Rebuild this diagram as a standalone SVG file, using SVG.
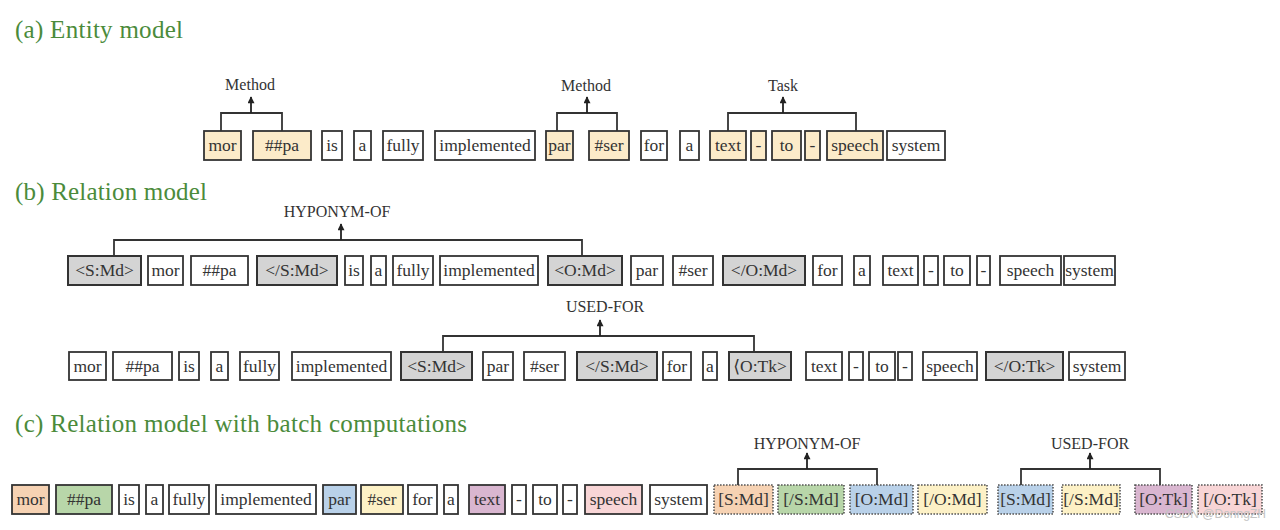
<svg xmlns="http://www.w3.org/2000/svg" width="1280" height="530" viewBox="0 0 1280 530">
<defs>
<marker id="ah" viewBox="0 0 10 10" refX="9" refY="5" markerWidth="8" markerHeight="7" markerUnits="userSpaceOnUse" orient="auto">
<path d="M0,0 L10,5 L0,10 Z" fill="#222"/>
</marker>
<style>
.title{font-family:"Liberation Serif",serif;font-size:25px;fill:#4b8b3b}
.lab{font-family:"Liberation Serif",serif;font-size:16px;fill:#333;text-anchor:middle}
.w{font-family:"Liberation Serif","DejaVu Serif",serif;font-size:17.5px;fill:#333;text-anchor:middle}
rect{stroke:#333;stroke-width:1.8;fill:#fff}
.ent{fill:#fcebc9}
.gry{fill:#d4d4d4;stroke-width:2}
.dot{stroke:#555;stroke-dasharray:1.6 1.4;stroke-width:1.6}
.or{fill:#f6d2b3}.gr{fill:#b8d6a9}.bl{fill:#b9d1e9}.ye{fill:#fdf1c6}.pu{fill:#d9b6d0}.pk{fill:#f8d5d6}
.con{fill:none;stroke:#333;stroke-width:1.8}
.arr{fill:none;stroke:#222;stroke-width:1.8;marker-end:url(#ah)}
.wm{font-family:"Liberation Sans",sans-serif;font-size:12px;fill:#c4c4c4}
</style>
</defs>
<rect x="0" y="0" width="1280" height="530" style="fill:#fff;stroke:none"/>

<text class="title" x="15" y="38" textLength="168">(a) Entity model</text>
<text class="title" x="15" y="200" textLength="192">(b) Relation model</text>
<text class="title" x="15" y="432" textLength="452">(c) Relation model with batch computations</text>

<!-- Row a -->
<g id="a-mor"><rect class="ent" x="204" y="131" width="37" height="29"/><text class="w" x="222.5" y="151">mor</text></g>
<g id="a-pa"><rect class="ent" x="253" y="131" width="58" height="29"/><text class="w" x="282" y="151">##pa</text></g>
<g id="a-is"><rect x="322" y="131" width="20" height="29"/><text class="w" x="332" y="151">is</text></g>
<g id="a-a1"><rect x="354" y="131" width="17" height="29"/><text class="w" x="362.5" y="151">a</text></g>
<g id="a-fully"><rect x="383" y="131" width="40" height="29"/><text class="w" x="403" y="151">fully</text></g>
<g id="a-impl"><rect x="435" y="131" width="100" height="29"/><text class="w" x="485" y="151">implemented</text></g>
<g id="a-par"><rect class="ent" x="546" y="131" width="27" height="29"/><text class="w" x="559.5" y="151">par</text></g>
<g id="a-ser"><rect class="ent" x="589" y="131" width="40" height="29"/><text class="w" x="609" y="151">#ser</text></g>
<g id="a-for"><rect x="641" y="131" width="26" height="29"/><text class="w" x="654" y="151">for</text></g>
<g id="a-a2"><rect x="680" y="131" width="19" height="29"/><text class="w" x="689.5" y="151">a</text></g>
<g id="a-text"><rect class="ent" x="710" y="131" width="36" height="29"/><text class="w" x="728" y="151">text</text></g>
<g id="a-d1"><rect class="ent" x="751" y="131" width="15" height="29"/><text class="w" x="758.5" y="151">-</text></g>
<g id="a-to"><rect class="ent" x="772" y="131" width="29" height="29"/><text class="w" x="786.5" y="151">to</text></g>
<g id="a-d2"><rect class="ent" x="805" y="131" width="15" height="29"/><text class="w" x="812.5" y="151">-</text></g>
<g id="a-speech"><rect class="ent" x="827" y="131" width="56" height="29"/><text class="w" x="855" y="151">speech</text></g>
<g id="a-system"><rect x="887" y="131" width="58" height="29"/><text class="w" x="916" y="151">system</text></g>
<g id="a-lab-method1"><text class="lab" x="250" y="90">Method</text></g>
<g id="a-lab-method2"><text class="lab" x="586" y="91">Method</text></g>
<g id="a-lab-task"><text class="lab" x="783" y="91">Task</text></g>

<!-- Row b1 -->
<g id="b1-s"><rect class="gry" x="68" y="256" width="73" height="29"/><text class="w" x="104.5" y="276">&lt;S:Md&gt;</text></g>
<g id="b1-mor"><rect x="148" y="256" width="35" height="29"/><text class="w" x="165.5" y="276">mor</text></g>
<g id="b1-pa"><rect x="191" y="256" width="57" height="29"/><text class="w" x="219.5" y="276">##pa</text></g>
<g id="b1-se"><rect class="gry" x="257" y="256" width="80" height="29"/><text class="w" x="297" y="276">&lt;/S:Md&gt;</text></g>
<g id="b1-is"><rect x="345" y="256" width="18" height="29"/><text class="w" x="354" y="276">is</text></g>
<g id="b1-a1"><rect x="371" y="256" width="15" height="29"/><text class="w" x="378.5" y="276">a</text></g>
<g id="b1-fully"><rect x="393" y="256" width="40" height="29"/><text class="w" x="413" y="276">fully</text></g>
<g id="b1-impl"><rect x="440" y="256" width="98" height="29"/><text class="w" x="489" y="276">implemented</text></g>
<g id="b1-o"><rect class="gry" x="548" y="256" width="74" height="29"/><text class="w" x="585" y="276">&lt;O:Md&gt;</text></g>
<g id="b1-par"><rect x="631" y="256" width="32" height="29"/><text class="w" x="647" y="276">par</text></g>
<g id="b1-ser"><rect x="673" y="256" width="40" height="29"/><text class="w" x="693" y="276">#ser</text></g>
<g id="b1-oe"><rect class="gry" x="723" y="256" width="82" height="29"/><text class="w" x="764" y="276">&lt;/O:Md&gt;</text></g>
<g id="b1-for"><rect x="813" y="256" width="29" height="29"/><text class="w" x="827.5" y="276">for</text></g>
<g id="b1-a2"><rect x="854" y="256" width="16" height="29"/><text class="w" x="862" y="276">a</text></g>
<g id="b1-text"><rect x="883" y="256" width="35" height="29"/><text class="w" x="900.5" y="276">text</text></g>
<g id="b1-d1"><rect x="924" y="256" width="14" height="29"/><text class="w" x="931" y="276">-</text></g>
<g id="b1-to"><rect x="944" y="256" width="26" height="29"/><text class="w" x="957" y="276">to</text></g>
<g id="b1-d2"><rect x="977" y="256" width="13" height="29"/><text class="w" x="983.5" y="276">-</text></g>
<g id="b1-speech"><rect x="1000" y="256" width="61" height="29"/><text class="w" x="1030.5" y="276">speech</text></g>
<g id="b1-system"><rect x="1064" y="256" width="51" height="29"/><text class="w" x="1089.5" y="276">system</text></g>
<g id="b1-lab"><text class="lab" x="337" y="217">HYPONYM-OF</text></g>

<!-- Row b2 -->
<g id="b2-mor"><rect x="69" y="352" width="37" height="28"/><text class="w" x="87.5" y="372">mor</text></g>
<g id="b2-pa"><rect x="113" y="352" width="59" height="28"/><text class="w" x="142.5" y="372">##pa</text></g>
<g id="b2-is"><rect x="179" y="352" width="20" height="28"/><text class="w" x="189" y="372">is</text></g>
<g id="b2-a1"><rect x="211" y="352" width="17" height="28"/><text class="w" x="219.5" y="372">a</text></g>
<g id="b2-fully"><rect x="240" y="352" width="39" height="28"/><text class="w" x="259.5" y="372">fully</text></g>
<g id="b2-impl"><rect x="292" y="352" width="99" height="28"/><text class="w" x="341.5" y="372">implemented</text></g>
<g id="b2-s"><rect class="gry" x="401" y="352" width="71" height="28"/><text class="w" x="436.5" y="372">&lt;S:Md&gt;</text></g>
<g id="b2-par"><rect x="483" y="352" width="30" height="28"/><text class="w" x="498" y="372">par</text></g>
<g id="b2-ser"><rect x="524" y="352" width="41" height="28"/><text class="w" x="544.5" y="372">#ser</text></g>
<g id="b2-se"><rect class="gry" x="577" y="352" width="80" height="28"/><text class="w" x="617" y="372">&lt;/S:Md&gt;</text></g>
<g id="b2-for"><rect x="663" y="352" width="28" height="28"/><text class="w" x="677" y="372">for</text></g>
<g id="b2-a2"><rect x="703" y="352" width="14" height="28"/><text class="w" x="710" y="372">a</text></g>
<g id="b2-o"><rect class="gry" x="729" y="352" width="62" height="28"/><text class="w" x="760" y="372">⟨O:Tk&gt;</text></g>
<g id="b2-text"><rect x="806" y="352" width="36" height="28"/><text class="w" x="824" y="372">text</text></g>
<g id="b2-d1"><rect x="849" y="352" width="14" height="28"/><text class="w" x="856" y="372">-</text></g>
<g id="b2-to"><rect x="869" y="352" width="26" height="28"/><text class="w" x="882" y="372">to</text></g>
<g id="b2-d2"><rect x="898" y="352" width="14" height="28"/><text class="w" x="905" y="372">-</text></g>
<g id="b2-speech"><rect x="923" y="352" width="54" height="28"/><text class="w" x="950" y="372">speech</text></g>
<g id="b2-oe"><rect class="gry" x="986" y="352" width="77" height="28"/><text class="w" x="1024.5" y="372">&lt;/O:Tk&gt;</text></g>
<g id="b2-system"><rect x="1069" y="352" width="56" height="28"/><text class="w" x="1097" y="372">system</text></g>
<g id="b2-lab"><text class="lab" x="605" y="312">USED-FOR</text></g>

<!-- Row c -->
<g id="c-mor"><rect class="or" x="12" y="485" width="37" height="29"/><text class="w" x="30.5" y="505">mor</text></g>
<g id="c-pa"><rect class="gr" x="56" y="485" width="56" height="29"/><text class="w" x="84" y="505">##pa</text></g>
<g id="c-is"><rect x="119" y="485" width="20" height="29"/><text class="w" x="129" y="505">is</text></g>
<g id="c-a1"><rect x="146" y="485" width="17" height="29"/><text class="w" x="154.5" y="505">a</text></g>
<g id="c-fully"><rect x="169" y="485" width="40" height="29"/><text class="w" x="189" y="505">fully</text></g>
<g id="c-impl"><rect x="216" y="485" width="100" height="29"/><text class="w" x="266" y="505">implemented</text></g>
<g id="c-par"><rect class="bl" x="323" y="485" width="33" height="29"/><text class="w" x="339.5" y="505">par</text></g>
<g id="c-ser"><rect class="ye" x="361" y="485" width="42" height="29"/><text class="w" x="382" y="505">#ser</text></g>
<g id="c-for"><rect x="408" y="485" width="29" height="29"/><text class="w" x="422.5" y="505">for</text></g>
<g id="c-a2"><rect x="444" y="485" width="14" height="29"/><text class="w" x="451" y="505">a</text></g>
<g id="c-text"><rect class="pu" x="469" y="485" width="36" height="29"/><text class="w" x="487" y="505">text</text></g>
<g id="c-d1"><rect x="512" y="485" width="14" height="29"/><text class="w" x="519" y="505">-</text></g>
<g id="c-to"><rect x="533" y="485" width="24" height="29"/><text class="w" x="545" y="505">to</text></g>
<g id="c-d2"><rect x="563" y="485" width="14" height="29"/><text class="w" x="570" y="505">-</text></g>
<g id="c-speech"><rect class="pk" x="585" y="485" width="57" height="29"/><text class="w" x="613.5" y="505">speech</text></g>
<g id="c-system"><rect x="650" y="485" width="57" height="29"/><text class="w" x="678.5" y="505">system</text></g>
<g id="c-m1"><rect class="dot or" x="714" y="485" width="59" height="29"/><text class="w" x="743.5" y="505">[S:Md]</text></g>
<g id="c-m2"><rect class="dot gr" x="778" y="485" width="66" height="29"/><text class="w" x="811" y="505">[/S:Md]</text></g>
<g id="c-m3"><rect class="dot bl" x="850" y="485" width="63" height="29"/><text class="w" x="881.5" y="505">[O:Md]</text></g>
<g id="c-m4"><rect class="dot ye" x="918" y="485" width="69" height="29"/><text class="w" x="952.5" y="505">[/O:Md]</text></g>
<g id="c-m5"><rect class="dot bl" x="998" y="485" width="55" height="29"/><text class="w" x="1025.5" y="505">[S:Md]</text></g>
<g id="c-m6"><rect class="dot ye" x="1062" y="485" width="58" height="29"/><text class="w" x="1091" y="505">[/S:Md]</text></g>
<g id="c-m7"><rect class="dot pu" x="1135" y="485" width="57" height="29"/><text class="w" x="1163.5" y="505">[O:Tk]</text></g>
<g id="c-m8"><rect class="dot pk" x="1198" y="485" width="64" height="29"/><text class="w" x="1230" y="505">[/O:Tk]</text></g>
<g id="c-lab1"><text class="lab" x="807" y="449">HYPONYM-OF</text></g>
<g id="c-lab2"><text class="lab" x="1090" y="449">USED-FOR</text></g>

<!-- connectors -->
<g id="connectors">
<path class="con" d="M221,131 V113 H282 V131"/>
<path class="arr" d="M251,113 V97"/>
<path class="con" d="M557,131 V113 H617 V131"/>
<path class="arr" d="M587,113 V97"/>
<path class="con" d="M728,131 V113 H856 V131"/>
<path class="arr" d="M783,113 V97"/>
<path class="con" d="M114,256 V240 H582 V256"/>
<path class="arr" d="M341,240 V224"/>
<path class="con" d="M443,352 V336 H754 V352"/>
<path class="arr" d="M600,336 V320"/>
<path class="con" d="M738,485 V469 H877 V485"/>
<path class="arr" d="M807,469 V453"/>
<path class="con" d="M1021,485 V469 H1160 V485"/>
<path class="arr" d="M1090,469 V453"/>
</g>

<text class="wm" x="1165" y="518">CSDN @DonngZH</text>
</svg>
